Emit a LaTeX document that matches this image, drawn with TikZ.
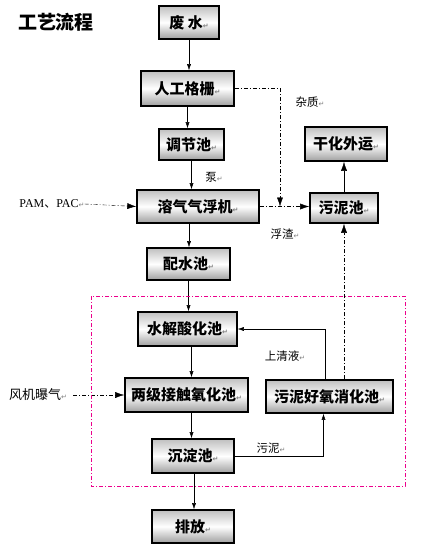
\documentclass[tikz,border=0pt]{standalone}
\usepackage{fontspec}
\setmainfont{Liberation Serif}
\newfontfamily\cjk{Noto Sans CJK SC}
\newfontfamily\symf{DejaVu Sans}
\usepackage{tikz}
\usetikzlibrary{arrows.meta, calc}

\newcommand{\ret}{{\symf\color{gray}\fontsize{7}{7}\selectfont ↵}}

\tikzset{
	box/.style={draw, line width=1.6pt, top color=gray!50, bottom color=gray!75, middle color=white,
		inner sep=0pt, font=\cjk\bfseries\fontsize{15}{15}\selectfont},
	lbl/.style={inner sep=0pt, font=\cjk\fontsize{11.5}{11.5}\selectfont},
	arr/.style={-{Latex[length=6pt,width=4pt]}},
	bigarr/.style={-{Latex[length=9pt,width=6pt]}},
	dd/.style={dash pattern=on 4pt off 2pt on 1pt off 2pt}
}

\begin{document}
\begin{tikzpicture}[x=1pt, y=-1pt]
				\useasboundingbox (0,0) rectangle (430,552);
				
				\node[inner sep=0pt, font=\cjk\bfseries\fontsize{19}{19}\selectfont] (title) at (56, 22) {工艺流程};
				
				\node[box, minimum width=60pt, minimum height=33pt] (fs) at (189, 22.5) {废 水\ret};
				\node[box, minimum width=93pt, minimum height=35pt] (gs) at (187.5, 88.5) {人工格栅\ret};
				\node[box, minimum width=65pt, minimum height=31pt] (tj) at (191.5, 144.5) {调节池\ret};
				\node[box, minimum width=122pt, minimum height=33pt] (qf) at (198, 206.5) {溶气气浮机\ret};
				\node[box, minimum width=83pt, minimum height=32pt] (ps) at (188.5, 264) {配水池\ret};
				\node[box, minimum width=82pt, minimum height=34pt] (gh) at (346, 144) {干化外运\ret};
				\node[box, minimum width=68pt, minimum height=30pt] (wn) at (344, 208) {污泥池\ret};
				\node[box, minimum width=99pt, minimum height=34pt] (sj) at (187.5, 329) {水解酸化池\ret};
				\node[box, minimum width=123pt, minimum height=34pt] (jc) at (186.5, 395) {两级接触氧化池\ret};
				\node[box, minimum width=127pt, minimum height=33pt] (xh) at (329.5, 396.5) {污泥好氧消化池\ret};
				\node[box, minimum width=82pt, minimum height=34pt] (cd) at (193, 456) {沉淀池\ret};
				\node[box, minimum width=82pt, minimum height=33pt] (pf) at (193, 526.5) {排放\ret};
				
				\node[inner sep=0pt, font=\fontsize{12}{12}\selectfont] (pam) at (52, 204) {PAM{\cjk 、}PAC\ret};
				\node[lbl, font=\cjk\fontsize{13}{13}\selectfont] (fj) at (38, 395) {风机曝气\ret};
				\node[lbl] (zz) at (310, 102) {杂质\ret};
				\node[lbl] (bg) at (214, 177) {泵\ret};
				\node[lbl] (fz) at (285, 234) {浮渣\ret};
				\node[lbl] (sq) at (285, 356) {上清液\ret};
				\node[lbl] (wl) at (271, 448) {污泥\ret};
				
				% main line
				\draw [arr](fs.south) -- (fs.south |- gs.north);
				\draw [arr](gs.south) -- (gs.south |- tj.north);
				\draw [arr](tj.south) -- (tj.south |- qf.north);
				\draw [arr]([xshift=-9pt]qf.south) -- ([xshift=-9pt]qf.south |- ps.north);
				\draw [arr](ps.south) -- (ps.south |- sj.north);
				\draw [arr]([xshift=4pt]sj.south) -- ([xshift=4pt]sj.south |- jc.north);
				\draw [arr]([xshift=5pt]jc.south) -- ([xshift=5pt]jc.south |- cd.north);
				\draw [arr]([xshift=1pt]cd.south) -- ([xshift=1pt]cd.south |- pf.north);
				
				% sludge
				\coordinate (jn) at (280, 206.5);
				\draw [dd, bigarr](gs.east) -| (jn);
				\draw [dd, bigarr](qf.east) -- (qf.east -| wn.west);
				\draw [dd, bigarr](pam.east) -- (qf.west);
				\draw [dd, bigarr]([xshift=6pt]fj.east) -- (jc.west);
				\draw [bigarr](wn.north) -- (wn.north |- gh.south);
				\draw [dd, bigarr](wn.south |- xh.north) -- (wn.south);
				\draw [arr]([xshift=-4pt]xh.north) |- (sj.east);
				\draw [arr](cd.east) -| ([xshift=-6pt]xh.south);
				
				\draw [magenta, dd](91, 296) rectangle (405, 486);
			\end{tikzpicture}
\end{document}
